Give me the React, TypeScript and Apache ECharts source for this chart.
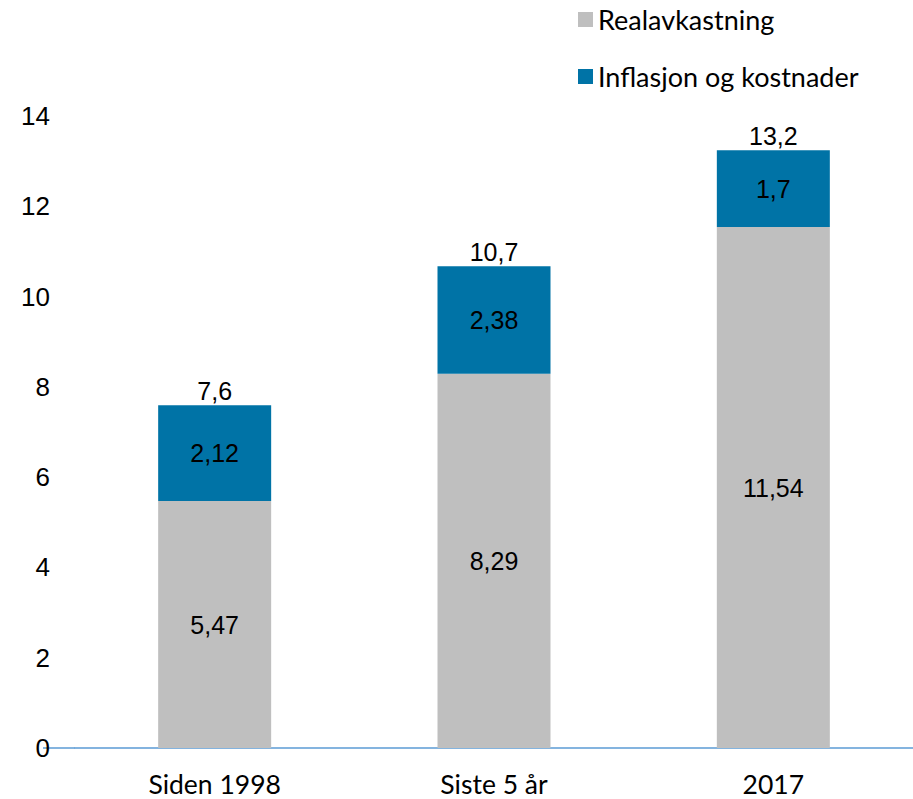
import React, { useEffect, useRef } from "react";
import * as echarts from "echarts";

const categories = ["Siden 1998", "Siste 5 år", "2017"];
const realavkastning = [5.47, 8.29, 11.54];
const inflasjon = [2.12, 2.38, 1.7];
const totals = [7.6, 10.7, 13.2];
const yTicks = [0, 2, 4, 6, 8, 10, 12, 14];

const fmt = (v: number) => String(v).replace(".", ",");

export default function App() {
  const ref = useRef<HTMLDivElement>(null);
  useEffect(() => {
    if (!ref.current) return;
    const chart = echarts.init(ref.current, undefined, { renderer: "svg" });
    const dataLabel = {
      show: true,
      position: "inside",
      fontFamily: "Liberation Sans",
      fontSize: 25,
      color: "#000",
      formatter: (p: any) => fmt(p.value),
    };
    chart.setOption({
      animation: false,
      grid: { left: 75, right: -2, top: 116, bottom: 51, containLabel: false },
      legend: {
        orient: "vertical",
        left: 573,
        top: 1,
        itemWidth: 15,
        itemHeight: 15,
        itemGap: 30,
        icon: "rect",
        data: ["Realavkastning", "Inflasjon og kostnader"],
        textStyle: { fontFamily: "Lato", fontSize: 27, color: "#000" },
      },
      xAxis: {
        type: "category",
        data: categories,
        axisTick: { show: false },
        axisLine: { lineStyle: { color: "#5B9BD5", width: 1.5 } },
        axisLabel: { fontFamily: "Lato", fontSize: 26.5, color: "#000", margin: 22 },
      },
      yAxis: {
        type: "value",
        min: yTicks[0],
        max: yTicks[yTicks.length - 1],
        interval: 2,
        splitLine: { show: false },
        axisLine: { show: false },
        axisLabel: { fontFamily: "Liberation Sans", fontSize: 26, color: "#000", margin: 25 },
      },
      graphic: [
        {
          type: "line",
          shape: { x1: 43, y1: 748, x2: 75, y2: 748 },
          style: { stroke: "#5B9BD5", lineWidth: 1.5 },
        },
      ],
      series: [
        {
          name: "Realavkastning",
          type: "bar",
          stack: "s",
          barWidth: 113,
          data: realavkastning,
          itemStyle: { color: "#BFBFBF" },
          label: dataLabel,
        },
        {
          name: "Inflasjon og kostnader",
          type: "bar",
          stack: "s",
          barWidth: 113,
          data: inflasjon,
          itemStyle: { color: "#0073A6" },
          label: dataLabel,
        },
        {
          name: "Total",
          type: "bar",
          stack: "s",
          barWidth: 113,
          data: totals.map(() => 0),
          itemStyle: { color: "transparent" },
          label: {
            show: true,
            position: "top",
            distance: 2,
            fontFamily: "Liberation Sans",
            fontSize: 25,
            color: "#000",
            formatter: (p: any) => fmt(totals[p.dataIndex]),
          },
        },
      ],
    });
    return () => chart.dispose();
  }, []);
  return <div ref={ref} style={{ width: 913, height: 799, position: "absolute", left: 0, top: 0 }} />;
}
